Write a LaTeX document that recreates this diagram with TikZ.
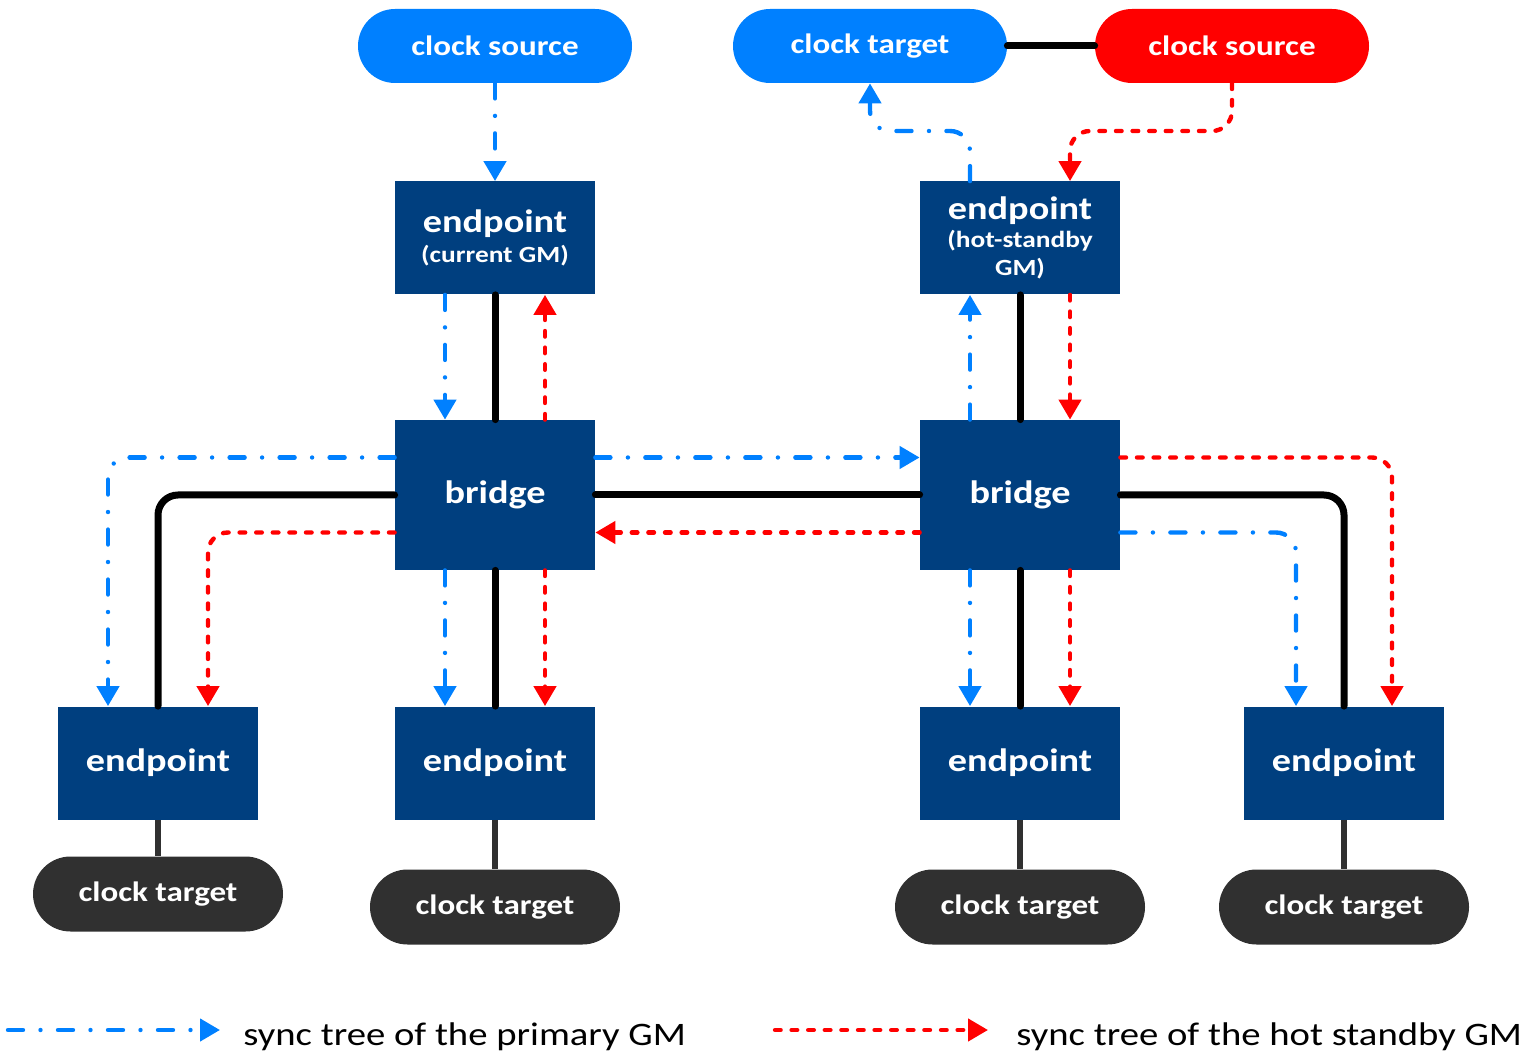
\documentclass[tikz,border=0pt]{standalone}
\usepackage{fontspec}
\setmainfont[FakeStretch=1.18]{Carlito}
\usetikzlibrary{arrows.meta,calc}

\definecolor{navy}{RGB}{0,63,127}
\definecolor{pblue}{RGB}{0,128,255}
\definecolor{hred}{RGB}{255,0,0}
\definecolor{tgray}{RGB}{48,48,48}

\tikzset{
  box/.style={fill=navy, text=white, inner sep=0pt, align=center,
    minimum width=100pt, minimum height=56.5pt,
    font=\bfseries\fontsize{16.2}{18}\selectfont},
  bridgebox/.style={box, minimum height=75pt},
  pill/.style={fill=pblue, text=white, rounded corners=18.5pt, inner sep=0pt,
    minimum width=137pt, minimum height=37pt,
    font=\bfseries\fontsize{14}{16}\selectfont},
  tgt/.style={pill, fill=tgray, rounded corners=18.75pt,
    minimum width=125pt, minimum height=37.5pt},
  link/.style={draw=black, line width=3.5pt, line cap=round, rounded corners=10pt},
  tlink/.style={draw=tgray, line width=2.6pt},
  tip/.style={-{Triangle[width=11pt,length=10pt]}},
  pri/.style={draw=pblue, line width=2.2pt, line cap=round, rounded corners=10pt,
    dash pattern=on 7.5pt off 8.75pt on 0pt off 8.75pt, tip},
  hsb/.style={draw=hred, line width=2.2pt, line cap=round, rounded corners=10pt,
    dash pattern=on 2.8pt off 5.5pt, tip},
  legend/.style={anchor=base west, inner sep=0pt, font=\fontsize{16.4}{19}\selectfont}
}

\begin{document}
\begin{tikzpicture}[x=0.5pt, y=-0.5pt]
\useasboundingbox (0,0) rectangle (1529,1052);

% clock sources and targets at the top
\node[pill] (cs1) at (495,46) {clock source};
\node[pill] (ct1) at (870,46) {clock target};
\node[pill, fill=hred] (cs2) at (1232,46) {clock source};

% grandmaster endpoints
\node[box] (ep1) at (495,238) {endpoint\\[-3pt]{\fontsize{11.6}{13}\selectfont (current GM)}};
\node[box] (ep2) at (1020,238) {endpoint\\[-4pt]{\fontsize{11.6}{13}\selectfont (hot-standby}\\[-4pt]{\fontsize{11.6}{13}\selectfont GM)}};

% bridges
\node[bridgebox] (br1) at (495,495) {bridge};
\node[bridgebox] (br2) at (1020,495) {bridge};

% leaf endpoints
\node[box] (e1) at (158,763) {endpoint};
\node[box] (e2) at (495,763) {endpoint};
\node[box] (e3) at (1020,763) {endpoint};
\node[box] (e4) at (1344,763) {endpoint};

% leaf clock targets
\node[tgt] (t1) at (158,894) {clock target};
\node[tgt] (t2) at (495,907) {clock target};
\node[tgt] (t3) at (1020,907) {clock target};
\node[tgt] (t4) at (1344,907) {clock target};

% physical links
\draw[link] (ct1.east) -- (cs2.west);
\draw[link] (ep1.south) -- (br1.north);
\draw[link] (ep2.south) -- (br2.north);
\draw[link] (br1.east) -- (br2.west);
\draw[link] (br1.west) -| (e1.north);
\draw[link] (br1.south) -- (e2.north);
\draw[link] (br2.south) -- (e3.north);
\draw[link] (br2.east) -| (e4.north);
\draw[tlink] (e1.south) -- (t1.north);
\draw[tlink] (e2.south) -- (t2.north);
\draw[tlink] (e3.south) -- (t3.north);
\draw[tlink] (e4.south) -- (t4.north);

% sync tree of the primary grandmaster
\coordinate (pturn) at (920,131);
\draw[pri] (cs1.south) -- (ep1.north);
\draw[pri] ([xshift=-25pt]ep1.south) -- ([xshift=-25pt]br1.north);
\draw[pri] ([yshift=18.75pt]br1.west) -| ([xshift=-25pt]e1.north);
\draw[pri] ([yshift=18.75pt]br1.east) -- ([yshift=18.75pt]br2.west);
\draw[pri] ([xshift=-25pt]br1.south) -- ([xshift=-25pt]e2.north);
\draw[pri] ([xshift=-25pt]br2.north) -- ([xshift=-25pt]ep2.south);
\draw[pri] ([xshift=-25pt]ep2.north) |- (pturn) -| (ct1.south);
\draw[pri] ([xshift=-25pt]br2.south) -- ([xshift=-25pt]e3.north);
\draw[pri] ([yshift=-18.75pt]br2.east) -| ([xshift=-24pt]e4.north);

% sync tree of the hot standby grandmaster
\coordinate (hturn) at (1150,131);
\draw[hsb] (cs2.south) |- (hturn) -| ([xshift=25pt]ep2.north);
\draw[hsb] ([xshift=25pt]ep2.south) -- ([xshift=25pt]br2.north);
\draw[hsb] ([yshift=-18.75pt]br2.west) -- ([yshift=-18.75pt]br1.east);
\draw[hsb] ([xshift=25pt]br1.north) -- ([xshift=25pt]ep1.south);
\draw[hsb] ([yshift=-18.75pt]br1.west) -| ([xshift=25pt]e1.north);
\draw[hsb] ([xshift=25pt]br1.south) -- ([xshift=25pt]e2.north);
\draw[hsb] ([xshift=25pt]br2.south) -- ([xshift=25pt]e3.north);
\draw[hsb] ([yshift=18.75pt]br2.east) -| ([xshift=24pt]e4.north);

% legend
\coordinate (lpa) at (8,1030);
\coordinate (lpb) at (220,1030);
\coordinate (lha) at (775,1030);
\coordinate (lhb) at (988,1030);
\draw[pri] (lpa) -- (lpb);
\draw[hsb] (lha) -- (lhb);
\node[legend] (lpt) at (243,1045) {sync tree of the primary GM};
\node[legend] (lht) at (1016,1045) {sync tree of the hot standby GM};
\end{tikzpicture}
\end{document}
